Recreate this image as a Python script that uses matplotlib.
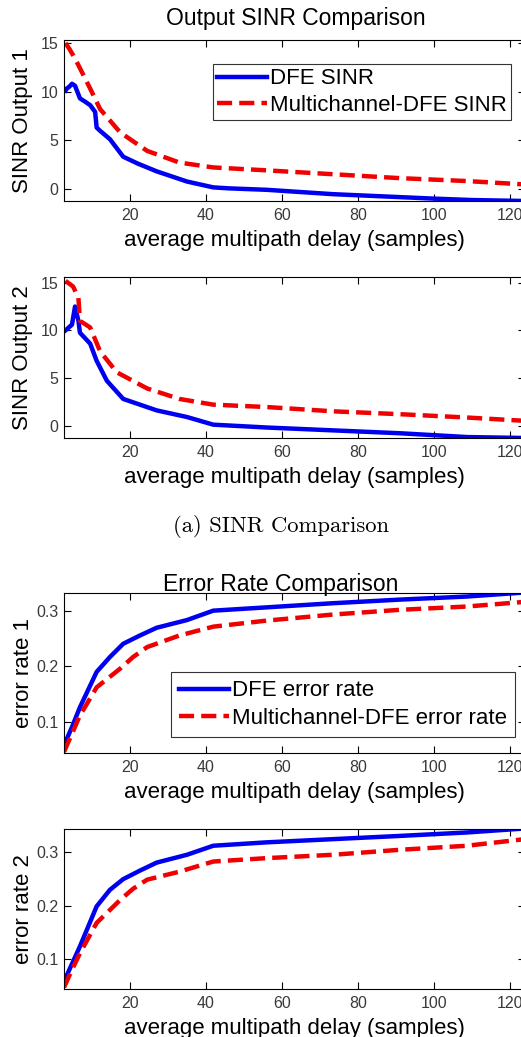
import matplotlib.pyplot as plt
import numpy as np

# SINR, output 1
x_dfe1 = [3.0, 3.3, 4.0, 4.7, 5.5, 6.8, 8.0, 9.5, 10.8, 11.2, 12.0, 14.7, 18.2, 22.0, 27.0, 35.0, 41.9, 46.0, 56.0, 73.5, 91.0, 99.7, 110.0, 124.0]
y_dfe1 = [10.1, 10.3, 10.5, 10.8, 10.6, 9.3, 9.0, 8.6, 7.9, 6.3, 6.0, 5.1, 3.3, 2.6, 1.8, 0.75, 0.15, 0.05, -0.1, -0.55, -0.85, -1.0, -1.15, -1.25]
x_mc1 = [3.0, 3.3, 4.0, 5.5, 6.8, 9.5, 12.1, 17.4, 24.5, 33.0, 41.9, 56.0, 73.5, 91.0, 108.7, 124.0]
y_mc1 = [15.0, 14.8, 14.4, 13.4, 12.4, 10.3, 8.2, 5.8, 3.9, 2.7, 2.2, 1.9, 1.5, 1.1, 0.8, 0.45]

# SINR, output 2
x_dfe2 = [3.0, 3.3, 4.7, 5.5, 6.4, 6.8, 9.5, 11.2, 13.9, 18.2, 27.0, 35.0, 41.9, 56.0, 73.5, 91.0, 108.7, 124.0]
y_dfe2 = [10.0, 10.1, 10.6, 12.5, 11.0, 9.75, 8.6, 6.8, 4.7, 2.8, 1.6, 0.9, 0.1, -0.2, -0.5, -0.8, -1.2, -1.3]
x_mc2 = [3.0, 3.3, 5.0, 6.4, 6.8, 9.5, 12.1, 16.5, 24.5, 33.0, 41.9, 56.0, 73.5, 91.0, 108.7, 124.0]
y_mc2 = [15.2, 15.1, 14.6, 13.4, 11.0, 10.3, 7.8, 5.6, 3.9, 2.8, 2.2, 1.95, 1.5, 1.2, 0.85, 0.5]

# error rate 1
x_er = [2.6, 4.7, 6.8, 11.2, 14.7, 18.2, 22.6, 27.0, 35.0, 41.9, 56.0, 73.5, 91.0, 108.7, 124.0]
y_er_dfe1 = [0.057, 0.09, 0.126, 0.19, 0.217, 0.241, 0.256, 0.27, 0.284, 0.301, 0.307, 0.3145, 0.321, 0.3266, 0.334]
x_er_mc = [2.6, 4.7, 6.8, 11.2, 17.4, 20.8, 24.5, 33.0, 41.9, 56.0, 73.5, 91.0, 108.7, 124.0]
y_er_mc1 = [0.045, 0.078, 0.111, 0.162, 0.196, 0.217, 0.235, 0.256, 0.272, 0.283, 0.294, 0.3025, 0.3085, 0.317]

# error rate 2
y_er_dfe2 = [0.058, 0.091, 0.124, 0.199, 0.23, 0.25, 0.266, 0.281, 0.2957, 0.3126, 0.319, 0.325, 0.331, 0.3375, 0.345]
y_er_mc2 = [0.047, 0.08, 0.111, 0.168, 0.211, 0.232, 0.249, 0.264, 0.283, 0.2894, 0.2957, 0.305, 0.3126, 0.325]

W, H = 521, 1037
plt.rcParams['font.family'] = ['Liberation Sans', 'DejaVu Sans']

fig = plt.figure(figsize=(W / 100, H / 100), dpi=100)

def px_axes(left, top, bottom, right=525):
    return fig.add_axes([left / W, 1 - bottom / H, (right - left) / W, (bottom - top) / H])

def style(ax, ylabel, yticks, ylim, ylab_x):
    ax.set_xlim(2.6, 124)
    ax.set_ylim(*ylim)
    ax.set_xticks([20, 40, 60, 80, 100, 120])
    ax.set_yticks(yticks)
    ax.tick_params(direction='in', top=True, right=True, length=5, labelsize=11.5,
                   labelcolor='#3a3a3a', width=0.8, pad=4)
    ax.tick_params(axis='x', pad=5)
    ax.set_xlabel('average multipath delay (samples)', fontsize=16, labelpad=5)
    ax.set_ylabel(ylabel, fontsize=16)
    # x given in pixels: right edge of the rotated label
    ax.yaxis.set_label_coords((ylab_x - 64) / 461, 0.5)
    for s in ax.spines.values():
        s.set_linewidth(0.8)

blue = dict(color='#0000f0', lw=3.2)
red = dict(color='#f00000', lw=3.2, linestyle=(0, (3.4, 1.6)))

legend_kw = dict(loc='upper left', fontsize=16, frameon=True, fancybox=False,
                 edgecolor='black', handlelength=2.25, handletextpad=0.1,
                 borderaxespad=0)

ax1 = px_axes(64, 40, 201)
ax1.plot(x_dfe1, y_dfe1, label='DFE SINR', **blue)
ax1.plot(x_mc1, y_mc1, label='Multichannel-DFE SINR', **red)
style(ax1, 'SINR Output 1', [0, 5, 10, 15], (-1.25, 15.3), 33)
leg = ax1.legend(bbox_to_anchor=((213 - 64) / 461, (201 - 64) / 161),
                 borderpad=0.2, labelspacing=0.25, **legend_kw)
leg.get_frame().set_linewidth(0.8)
fig.text(296 / W, 1 - 19 / H, 'Output SINR Comparison', fontsize=16.5, ha='center', va='center')

ax2 = px_axes(64, 277, 438)
ax2.plot(x_dfe2, y_dfe2, **blue)
ax2.plot(x_mc2, y_mc2, **red)
style(ax2, 'SINR Output 2', [0, 5, 10, 15], (-1.3, 15.6), 33)

fig.text(281 / W, 1 - 527 / H, '(a) SINR Comparison', fontsize=16.3, family='cmr10',
         ha='center', va='center')

ax3 = px_axes(64, 593, 753)
ax3.plot(x_er, y_er_dfe1, label='DFE error rate', **blue)
ax3.plot(x_er_mc, y_er_mc1, label='Multichannel-DFE error rate', **red)
style(ax3, 'error rate 1', [0.1, 0.2, 0.3], (0.043, 0.333), 34)
leg = ax3.legend(bbox_to_anchor=((171 - 64) / 461, (753 - 672) / 160),
                 borderpad=0.38, labelspacing=0.28, **legend_kw)
leg.get_frame().set_linewidth(0.8)
fig.text(281 / W, 1 - 585 / H, 'Error Rate Comparison', fontsize=16.5, ha='center', va='center')

ax4 = px_axes(64, 829, 989)
ax4.plot(x_er, y_er_dfe2, **blue)
ax4.plot(x_er_mc, y_er_mc2, **red)
style(ax4, 'error rate 2', [0.1, 0.2, 0.3], (0.044, 0.344), 34)

fig.savefig('out.png', dpi=100)
